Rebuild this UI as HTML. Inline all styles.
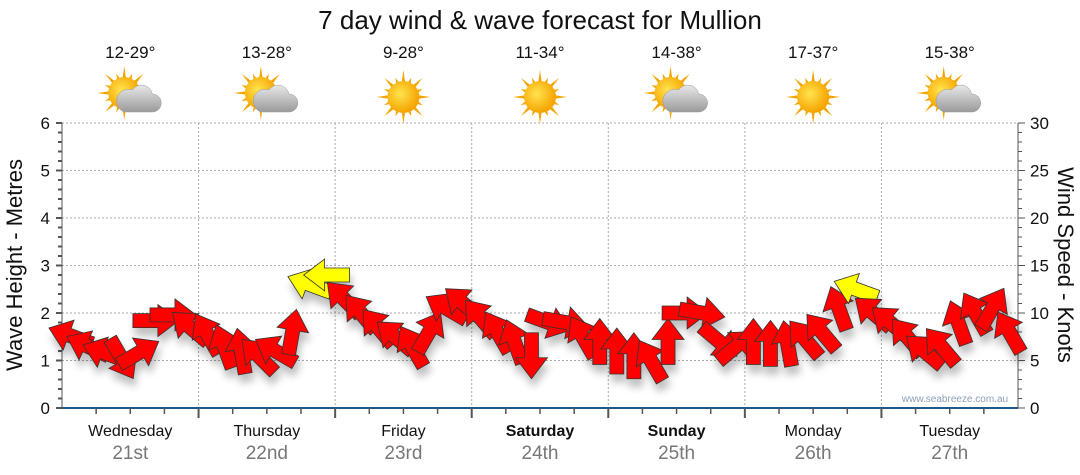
<!DOCTYPE html>
<html><head><meta charset="utf-8"><style>
body{margin:0;background:#fff;font-family:"Liberation Sans",sans-serif}
svg{display:block}
</style></head><body>
<svg id="c" width="1080" height="475" viewBox="0 0 1080 475">
<defs>
<filter id="sh" x="-50%" y="-50%" width="200%" height="200%"><feGaussianBlur in="SourceAlpha" stdDeviation="4"/><feOffset dx="2" dy="8"/><feComponentTransfer><feFuncA type="linear" slope="0.25"/></feComponentTransfer><feMerge><feMergeNode/><feMergeNode in="SourceGraphic"/></feMerge></filter>
<radialGradient id="sun" cx="0.4" cy="0.4" r="0.6"><stop offset="0" stop-color="#ffe44d"/><stop offset="1" stop-color="#f5a300"/></radialGradient>
<linearGradient id="cl" x1="0" y1="0" x2="0" y2="1"><stop offset="0" stop-color="#e8e8e8"/><stop offset="1" stop-color="#9a9a9a"/></linearGradient>
</defs>
<text x="540" y="29" text-anchor="middle" font-size="26" fill="#111">7 day wind &amp; wave forecast for Mullion</text>
<g id="grid"></g>
<g id="axes"></g>
<g id="days"></g>
<g id="arrows" filter="url(#sh)"></g>
<text x="955" y="402" text-anchor="middle" font-size="10" fill="#8aa0b8">www.seabreeze.com.au</text>
<text transform="translate(22,265) rotate(-90)" text-anchor="middle" font-size="22" fill="#111">Wave Height - Metres</text>
<text transform="translate(1058,265) rotate(90)" text-anchor="middle" font-size="22" fill="#111">Wind Speed - Knots</text>
</svg>
<script>
const dayNames=["Wednesday","Thursday","Friday","Saturday","Sunday","Monday","Tuesday"];
const dayDates=["21st","22nd","23rd","24th","25th","26th","27th"];
const temps=["12-29°","13-28°","9-28°","11-34°","14-38°","17-37°","15-38°"];
const icons=["cloud","cloud","sun","sun","cloud","sun","cloud"];
const waveTicks=[0,1,2,3,4,5,6];
const windTicks=[0,5,10,15,20,25,30];
const windSpeed=[7.6,6.5,5.8,5.2,5.8,9.2,9.8,8.5, 7.8,6.5,6,5.5,6,8,13,14, 11.5,10,8.5,7.5,6.5,8,10.5,11, 9.5,8,7,5.5,9,9,7.5,7, 6,5.5,5,7,10,10,7,6.5, 7,6.8,6.8,7.3,8,10.5,12.5,10, 9,7.5,6,6.5,9,10,10.5,8];
const windDir=[-160,-155,-160,60,-30,0,0,-140, -120,-110,-100,-135,-150,-80,-160,180, -135,-130,-130,-140,-120,-60,-150,-140, -130,-120,-110,90,20,10,-120,-90, -90,-90,-120,-90,0,10,40,-40, -90,-90,-100,-130,-130,-110,-160,-140, -140,-130,-140,-130,-110,-120,-60,-120];
const NS="http://www.w3.org/2000/svg";
const X0=62,X1=1018,Y0=408,Y1=123;
const xT=t=>X0+(X1-X0)*t/windSpeed.length;
const yW=v=>Y0-(Y0-Y1)*v/6;
const yK=v=>Y0-(Y0-Y1)*v/30;
function mk(tag,attrs,parent){const e=document.createElementNS(NS,tag);for(const k in attrs)e.setAttribute(k,attrs[k]);parent.appendChild(e);return e;}
const grid=document.getElementById('grid'),axes=document.getElementById('axes'),days=document.getElementById('days'),arr=document.getElementById('arrows');
waveTicks.forEach(v=>{
 if(v>0){const l=mk('line',{x1:X0,x2:X1,y1:yW(v),y2:yW(v),stroke:'#aaa','stroke-dasharray':'2,2'},grid);}
 const t=mk('text',{x:50,y:yW(v)+6,'text-anchor':'end','font-size':17,fill:'#111'},axes);t.textContent=v;
 
});
windTicks.forEach(v=>{const t=mk('text',{x:1030,y:yK(v)+6,'font-size':17,fill:'#111'},axes);t.textContent=v;
 });
for(let i=0;i<=30;i++){const y=yK(i),m=i%5==0;mk('line',{x1:X0,x2:X0+(m?-6:-4),y1:y,y2:y,stroke:'#555','stroke-width':2},axes);mk('line',{x1:X1,x2:X1+(m?7:4),y1:y,y2:y,stroke:'#555','stroke-width':1},axes);}
mk('line',{x1:X0,x2:X0,y1:Y1,y2:Y0,stroke:'#555'},axes);
mk('line',{x1:X1,x2:X1,y1:Y1,y2:Y0,stroke:'#555'},axes);
const base=mk('line',{x1:X0,x2:X1,y1:Y0,y2:Y0,stroke:'#1d5a8c','stroke-width':2},axes);

const dw=(X1-X0)/7;
for(let d=0;d<7;d++){
 const cx=X0+dw*(d+0.5);
 if(d>0){mk('line',{x1:X0+dw*d,x2:X0+dw*d,y1:Y1,y2:Y0,stroke:'#aaa','stroke-dasharray':'2,2'},grid);mk('line',{x1:X0+dw*d,x2:X0+dw*d,y1:Y0,y2:Y0+10,stroke:'#555','stroke-width':2},axes);}
 for(let k=1;k<4;k++){const x=X0+dw*d+dw*k/4;mk('line',{x1:x,x2:x,y1:Y0,y2:Y0+6,stroke:'#555','stroke-width':1.5},axes);}
 const bold=(d==3||d==4);
 const n=mk('text',{x:cx,y:436,'text-anchor':'middle','font-size':16,fill:'#111','font-weight':bold?'bold':'normal'},days);n.textContent=dayNames[d];
 
 const dt=mk('text',{x:cx,y:459,'text-anchor':'middle','font-size':19,fill:'#777'},days);dt.textContent=dayDates[d];
 
 const tp=mk('text',{x:cx,y:58,'text-anchor':'middle','font-size':17,fill:'#111'},days);tp.textContent=temps[d];
 
 const g=mk('g',{transform:`translate(${cx},97)`},days);
 
 const sx=icons[d]=='cloud'?-6:0,sy=icons[d]=='cloud'?-4:0;
 for(let r=0;r<16;r++){const a=r*Math.PI/8,L=r%2?21:27;mk('polygon',{points:`${sx+Math.cos(a)*L},${sy+Math.sin(a)*L} ${sx+Math.cos(a+0.13)*14},${sy+Math.sin(a+0.13)*14} ${sx+Math.cos(a-0.13)*14},${sy+Math.sin(a-0.13)*14}`,fill:'#f2a500'},g);}
 mk('circle',{cx:sx,cy:sy,r:16,fill:'url(#sun)'},g);
 if(icons[d]=='cloud'){mk('path',{d:'M-6,15 h28 a9,9 0 0 0 0,-18 a11,11 0 0 0 -20,-4 a9,9 0 0 0 -8,22 z',fill:'url(#cl)',stroke:'#999','stroke-width':0.5},g);}
}
windSpeed.forEach((v,i)=>{
 const x=xT(i+0.5),y=yK(v);
 const col=v>=12?'#ffff00':'#ff0000';
 const p=mk('polygon',{points:'-23,-7 2,-7 2,-16 23,0 2,16 2,7 -23,7',fill:col,stroke:'#333','stroke-width':0.8,transform:`translate(${x},${y}) rotate(${windDir[i]})`},arr);
 
 
});
</script>
</body></html>
